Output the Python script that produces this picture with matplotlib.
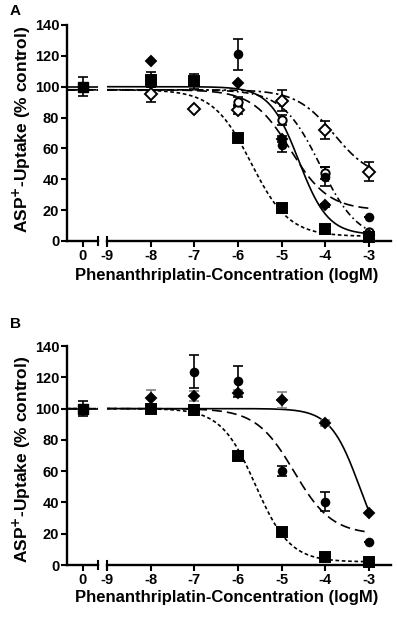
import numpy as np
import matplotlib.pyplot as plt

plt.rcParams['font.family'] = ['Liberation Sans', 'DejaVu Sans']
plt.rcParams['font.weight'] = 'bold'
plt.rcParams['mathtext.default'] = 'bf'

# log concentrations (M) of the treated wells
conc = [-8, -7, -6, -5, -4, -3]
nan = np.nan

# ---- panel A ----
a_ctrl = 100
a_ctrl_err = 6
a_sq = [104.5, 103.5, 67, 21.5, 7.8, 2.5]
a_sq_err = [5, 5, 2.5, 1.5, 1, 1]
a_fdia = [116.5, nan, 102.5, 66, 23.3, 4]
a_fdia_err = [0, 0, 0, 2, 1, 0]
a_fcirc = [nan, nan, 121, 62, 41.7, 15.8]
a_fcirc_err = [0, 0, 10, 4, 6, 0]
a_ocirc = [nan, nan, 90.3, 78.4, 43.9, 6]
a_ocirc_err = [0, 0, 3, 3, 4, 0]
a_odia = [95, 85.5, 85, 91, 72, 45]
a_odia_err = [5, 0, 3, 7, 6, 6]

# fitted sigmoid curves: top, bottom, logIC50, hill
a_fits = {
    'sq': (98, 3, -5.7, 1.0),
    'fdia': (100, 4, -4.61, 1.3),
    'fcirc': (98, 20, -4.8, 1.0),
    'ocirc': (98, 0, -4.12, 1.0),
    'odia': (98, 40, -3.8, 1.0),
}

# ---- panel B ----
b_ctrl = 100
b_ctrl_err = 5
b_sq = [100, 99, 70, 21, 5, 2]
b_sq_err = [1, 3, 2.5, 1.5, 1, 1]
b_circ = [nan, 123.5, 117.5, 60, 40.5, 15]
b_circ_err = [0, 10.5, 10, 3, 6, 0]
b_dia = [107, 108, 110, 105.5, 91, 33.5]
b_dia_err = [5, 3, 2, 5, 2, 0]

b_fits = {
    'sq': (100, 2, -5.6, 1.1),
    'circ': (100, 19.5, -4.72, 1.0),
    'dia': (100, 0, -3.22, 1.3),
}

CTRL_POS = -9.55
LEFT_LIM = (-9.915, -9.206)
RIGHT_LIM = (-9.0, -2.5)


def sigmoid(x, top, bottom, logic50, hill):
    return bottom + (top - bottom) / (1 + 10 ** (hill * (x - logic50)))


def setup_axes(ax_l, ax_r):
    for ax in (ax_l, ax_r):
        ax.set_ylim(0, 140)
        ax.spines['top'].set_visible(False)
        ax.spines['right'].set_visible(False)
        for s in ax.spines.values():
            s.set_linewidth(1.7)
        ax.tick_params(direction='out', length=4, width=1.5, labelsize=10.5, pad=1.5)
    ax_l.set_xlim(*LEFT_LIM)
    ax_r.set_xlim(*RIGHT_LIM)
    ax_l.set_yticks(range(0, 141, 20))
    ax_l.set_xticks([CTRL_POS])
    ax_l.set_xticklabels(['0'])
    ax_r.set_xticks([-9] + conc)
    ax_r.set_xticklabels([str(c) for c in [-9] + conc])
    ax_r.spines['left'].set_visible(False)
    ax_r.set_yticks([])
    # break marks at the ends of the split x axis
    ax_l.plot([1, 1], [-0.018, 0.018], transform=ax_l.transAxes, color='k',
              lw=1.5, clip_on=False)
    ax_r.plot([0, 0], [-0.018, 0.018], transform=ax_r.transAxes, color='k',
              lw=1.5, clip_on=False)


def draw_curve(ax_l, ax_r, params, style):
    xl = np.linspace(LEFT_LIM[0], LEFT_LIM[1], 20)
    xr = np.linspace(-9.0, -3.0, 300)
    for ax, xs in ((ax_l, xl), (ax_r, xr)):
        ax.plot(xs, sigmoid(xs, *params), color='k', lw=1.2, linestyle=style,
                zorder=2)


def draw_points(ax, y, err, marker, ms, face='k', ecolor='k'):
    ax.errorbar(conc, y, yerr=err, fmt='none', ecolor=ecolor, elinewidth=1.2,
                capsize=3.5, capthick=1.2, zorder=3, clip_on=False)
    ax.plot(conc, y, linestyle='none', marker=marker, ms=ms, mfc=face,
            mec='k', mew=1.4, zorder=4, clip_on=False)


fig = plt.figure(figsize=(3.97, 6.2), dpi=100)

# panel A
axA_l = fig.add_axes([0.1688, 0.6113, 0.0781, 0.3484])
axA_r = fig.add_axes([0.2695, 0.6113, 0.7154, 0.3484])
setup_axes(axA_l, axA_r)
draw_curve(axA_l, axA_r, a_fits['odia'], (0, (5, 2, 1.5, 2)))
draw_curve(axA_l, axA_r, a_fits['ocirc'], (0, (4, 2, 1, 2)))
draw_curve(axA_l, axA_r, a_fits['fcirc'], (0, (6, 3)))
draw_curve(axA_l, axA_r, a_fits['sq'], (0, (2.2, 1.6)))
draw_curve(axA_l, axA_r, a_fits['fdia'], '-')
draw_points(axA_r, a_odia, a_odia_err, 'D', 6, face='white')
draw_points(axA_r, a_ocirc, a_ocirc_err, 'o', 6, face='white')
draw_points(axA_r, a_fcirc, a_fcirc_err, 'o', 5.5)
draw_points(axA_r, a_fdia, a_fdia_err, 'D', 5)
draw_points(axA_r, a_sq, a_sq_err, 's', 6.5)
axA_l.errorbar([CTRL_POS], [a_ctrl], yerr=[a_ctrl_err], fmt='s', color='k',
               ms=6.5, elinewidth=1.2, capsize=3.5, capthick=1.2, zorder=4)

# panel B
axB_l = fig.add_axes([0.1688, 0.0887, 0.0781, 0.3532])
axB_r = fig.add_axes([0.2695, 0.0887, 0.7154, 0.3532])
setup_axes(axB_l, axB_r)
draw_curve(axB_l, axB_r, b_fits['circ'], (0, (6, 3)))
draw_curve(axB_l, axB_r, b_fits['sq'], (0, (2.2, 1.6)))
draw_curve(axB_l, axB_r, b_fits['dia'], '-')
draw_points(axB_r, b_dia, b_dia_err, 'D', 5, ecolor='0.5')
draw_points(axB_r, b_circ, b_circ_err, 'o', 5.5)
draw_points(axB_r, b_sq, b_sq_err, 's', 6.5)
axB_l.errorbar([CTRL_POS], [b_ctrl], yerr=[b_ctrl_err], fmt='s', color='k',
               ms=6.5, elinewidth=1.2, capsize=3.5, capthick=1.2, zorder=4)

ylab = r'ASP$^{+}$-Uptake (% control)'
xlab = 'Phenanthriplatin-Concentration (logM)'
fig.text(0.055, 0.792, ylab, rotation=90, ha='center', va='center', fontsize=12.5)
fig.text(0.055, 0.259, ylab, rotation=90, ha='center', va='center', fontsize=12.5)
fig.text(0.571, 0.556, xlab, ha='center', va='center', fontsize=12)
fig.text(0.571, 0.037, xlab, ha='center', va='center', fontsize=12)
fig.text(0.025, 0.983, 'A', ha='left', va='center', fontsize=11)
fig.text(0.025, 0.478, 'B', ha='left', va='center', fontsize=11)

fig.savefig('out.png', dpi=100)
